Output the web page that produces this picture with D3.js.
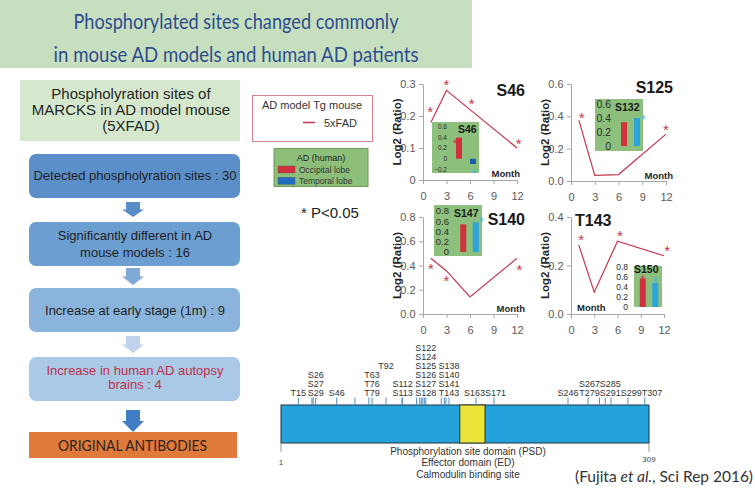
<!DOCTYPE html>
<html><head><meta charset="utf-8">
<script src="https://cdn.jsdelivr.net/npm/d3@7"></script>
<style>body{margin:0;background:#fff}svg{display:block}</style>
</head><body>
<script>
// ---------------- DATA ----------------
const titleLines = ["Phosphorylated sites changed commonly", "in mouse AD models and human AD patients"];
const headerLines = ["Phospholyration sites of", "MARCKS in AD model mouse", "(5XFAD)"];
const flowSteps = [
  ["Detected phospholyration sites : 30"],
  ["Significantly different in AD", "mouse models : 16"],
  ["Increase at early stage (1m) : 9"],
  ["Increase in human AD autopsy", "brains : 4"]
];
const finalStep = "ORIGINAL ANTIBODIES";

const months = [1, 3, 6, 12];
const monthTicks = [0, 3, 6, 9, 12];
const s46Ratio  = [0.18, 0.28, 0.22, 0.10];
const s125Ratio = [0.375, 0.035, 0.04, 0.29];
const s140Ratio = [0.46, 0.355, 0.14, 0.46];
const t143Ratio = [0.285, 0.09, 0.30, 0.24];
// significance asterisks [month, value]
const s46Stars  = [[0.9, 0.225], [3, 0.31], [6.2, 0.25], [12.2, 0.125]];
const s125Stars = [[1.35, 0.41], [12, 0.336]];
const s140Stars = [[1.0, 0.40], [3.0, 0.30], [12.3, 0.39]];
const t143Stars = [[1.3, 0.32], [6.3, 0.337], [12.4, 0.276]];
const s46Ticks  = [0, 0.1, 0.2, 0.3];
const s125Ticks = [0, 0.2, 0.4, 0.6];
const s140Ticks = [0, 0.2, 0.4, 0.6, 0.8];
const t143Ticks = [0, 0.2, 0.4];

// human AD (inset bars)
const humanSites = ["S46", "S132", "S147", "S150"];
const occipital  = [0.40, 0.34, 0.54, 0.57];
const temporal   = [-0.10, 0.40, 0.58, 0.485];
const insetTicks = [[-0.2, 0, 0.2, 0.4, 0.6], [0, 0.2, 0.4, 0.6], [0, 0.2, 0.4, 0.6, 0.8], [0, 0.2, 0.4, 0.6, 0.8]];
// inset asterisks: [site index, lobe, value]
const insetStars = [[0, "occ", 0.33], [0, "temp", -0.24], [1, "temp", 0.41], [2, "temp", 0.64], [3, "occ", 0.60], [3, "temp", 0.56]];

// MARCKS phosphorylation sites
const siteNames = ["T15","S26","S27","S29","S46","T63","T76","T79","T92","S112","S113","S122","S124","S125","S126","S127","S128","S138","S140","S141","T143","S163","S171","S246","S267","T279","S285","S291","S299","T307"];
const siteResidues = [15,26,27,29,46,63,76,79,92,112,113,122,124,125,126,127,128,138,140,141,143,163,171,246,267,279,285,291,299,307];
const siteLabelRows = [0,2,1,0,0,2,1,0,3,1,0,5,4,3,2,1,0,3,2,1,0,0,0,0,1,0,1,0,0,0];
const proteinLength = [1, 309];
const psdResidues = [151, 167];
const domainLines = ["Phosphorylation site domain (PSD)", "Effector domain (ED)", "Calmodulin binding site"];

// ---------------- DRAW ----------------
const AR = '"Liberation Sans", Arial, sans-serif';
const CAL = 'Lato, "Open Sans", sans-serif';
const RED = "#c4364f";
const svg = d3.select("body").append("svg").attr("width", 755).attr("height", 488)
  .style("font-family", AR);

// title band
svg.append("rect").attr("x", 0).attr("y", 0).attr("width", 472).attr("height", 68).attr("fill", "#c6e0bf");
const titleW = [325, 365], titleY = [28.5, 61.5];
svg.selectAll(".ttl").data(titleLines).join("text")
  .attr("x", 236).attr("y", (d, i) => titleY[i]).attr("text-anchor", "middle")
  .attr("font-family", CAL).attr("font-size", 22).attr("fill", "#2f4c8e")
  .attr("textLength", (d, i) => titleW[i]).attr("lengthAdjust", "spacingAndGlyphs").text(d => d);

// left flow
svg.append("rect").attr("x", 20).attr("y", 80).attr("width", 220).attr("height", 61).attr("fill", "#d5e8cd");
svg.selectAll(".hdr").data(headerLines).join("text")
  .attr("x", 131).attr("y", (d, i) => 99 + i * 16).attr("text-anchor", "middle")
  .attr("font-size", 15).attr("fill", "#262626").text(d => d);

const boxY = [154, 222, 288, 357], boxH = 44;
const boxFill = ["#5b8fc9", "#6c9ed1", "#8ab4dc", "#a9c9e6"];
const boxText = ["#1f1f1f", "#1f1f1f", "#1f1f1f", "#c0304a"];
const boxBase = [[180], [240, 257], [315], [375, 389]];
flowSteps.forEach((lines, i) => {
  svg.append("rect").attr("x", 29).attr("y", boxY[i]).attr("width", 211).attr("height", boxH)
    .attr("rx", 7).attr("fill", boxFill[i]);
  svg.selectAll(".fs" + i).data(lines).join("text")
    .attr("x", 135).attr("y", (d, j) => boxBase[i][j]).attr("text-anchor", "middle")
    .attr("font-size", 13).attr("fill", boxText[i]).text(d => d);
});
// arrows
const arrows = [[202, 217, "#5a8cc6"], [268, 285, "#7fa9d6"], [336, 353, "#bfd3eb"], [410, 432, "#3f7ec5"]];
arrows.forEach(([y0, y1, c]) => {
  const cx = 133, h = y1 - y0, ys = y0 + h * 0.5;
  svg.append("path").attr("fill", c)
    .attr("d", `M${cx-7},${y0}H${cx+7}V${ys}H${cx+11}L${cx},${y1}L${cx-11},${ys}H${cx-7}Z`);
});
svg.append("rect").attr("x", 29).attr("y", 432).attr("width", 208).attr("height", 26).attr("fill", "#e07a3a");
svg.append("text").attr("x", 132.5).attr("y", 450.5).attr("text-anchor", "middle")
  .attr("font-family", CAL).attr("font-size", 15).attr("fill", "#2b2320")
  .attr("textLength", 149).attr("lengthAdjust", "spacingAndGlyphs").text(finalStep);

// legends
svg.append("rect").attr("x", 252.5).attr("y", 95.5).attr("width", 120).attr("height", 46)
  .attr("fill", "#fff").attr("stroke", "#d9818e");
svg.append("text").attr("x", 262).attr("y", 108.5).attr("font-size", 11).attr("fill", "#333").text("AD model Tg mouse");
svg.append("line").attr("x1", 303).attr("x2", 315).attr("y1", 122.5).attr("y2", 122.5).attr("stroke", RED).attr("stroke-width", 1.5);
svg.append("text").attr("x", 324).attr("y", 126.5).attr("font-size", 11).attr("fill", "#333").text("5xFAD");

svg.append("rect").attr("x", 274).attr("y", 148.5).attr("width", 94).attr("height", 38)
  .attr("fill", "#8dbf7b").attr("stroke", "#6a9a5a");
svg.append("text").attr("x", 321).attr("y", 160.5).attr("text-anchor", "middle").attr("font-size", 9).attr("fill", "#222").text("AD (human)");
const legItems = [["Occipital lobe", "#d42f3c", 166], ["Temporal lobe", "#1f6cc0", 177.3]];
legItems.forEach(([t, c, y]) => {
  svg.append("rect").attr("x", 278).attr("y", y).attr("width", 17).attr("height", 7).attr("fill", c).attr("stroke", "#555").attr("stroke-width", 0.4);
  svg.append("text").attr("x", 299).attr("y", y + 6.5).attr("font-size", 8.5).attr("fill", "#333").text(t);
});
svg.append("text").attr("x", 301).attr("y", 218).attr("font-size", 15).attr("fill", "#222").text("* P<0.05");

// charts
const fmt1 = d3.format(".1f");
const charts = [
  { name: "S46", data: s46Ratio, stars: s46Stars, ticks: s46Ticks, fmt: d => d === 0 ? "0" : fmt1(d),
    xr: [423, 517], yr: [180, 84], dom: [0, 0.3], title: [525, 96, "end"], month: [520, 177, "end"], logX: 401 },
  { name: "S125", data: s125Ratio, stars: s125Stars, ticks: s125Ticks, fmt: fmt1,
    xr: [571, 666], yr: [181, 84], dom: [0, 0.6], title: [673, 93, "end"], month: [673, 179, "end"], logX: 549 },
  { name: "S140", data: s140Ratio, stars: s140Stars, ticks: s140Ticks, fmt: fmt1,
    xr: [423, 517], yr: [314, 217], dom: [0, 0.8], title: [525, 225, "end"], month: [525, 311.5, "end"], logX: 401 },
  { name: "T143", data: t143Ratio, stars: t143Stars, ticks: t143Ticks, fmt: fmt1,
    xr: [571, 664], yr: [314, 217], dom: [0, 0.4], title: [575, 226, "start"], month: [577, 311, "start"], logX: 549 }
];
charts.forEach(c => {
  const x = d3.scaleLinear().domain([0, 12]).range(c.xr);
  const y = d3.scaleLinear().domain(c.dom).range(c.yr);
  const g = svg.append("g");
  const ya = g.append("g").attr("transform", `translate(${c.xr[0]},0)`)
    .call(d3.axisLeft(y).tickValues(c.ticks).tickFormat(c.fmt).tickSize(4).tickPadding(3.5).tickSizeOuter(0));
  const xa = g.append("g").attr("transform", `translate(0,${c.yr[0]})`)
    .call(d3.axisBottom(x).tickValues(monthTicks).tickSize(4).tickPadding(8).tickSizeOuter(0));
  [ya, xa].forEach(a => {
    a.selectAll("path,line").attr("stroke", "#a6a6a6");
    a.selectAll("text").attr("font-family", AR).attr("font-size", 11).attr("fill", "#595959");
  });
  g.append("text").attr("transform", `translate(${c.logX},${(c.yr[0] + c.yr[1]) / 2}) rotate(-90)`)
    .attr("text-anchor", "middle").attr("font-size", 11.5).attr("font-weight", "bold").attr("fill", "#262626").text("Log2 (Ratio)");
  g.append("path").datum(months.map((m, i) => [m, c.data[i]]))
    .attr("fill", "none").attr("stroke", RED).attr("stroke-width", 1.2)
    .attr("d", d3.line().x(d => x(d[0])).y(d => y(d[1])));
  g.selectAll(".st").data(c.stars).join("text")
    .attr("x", d => x(d[0])).attr("y", d => y(d[1])).attr("dy", "0.58em").attr("text-anchor", "middle")
    .attr("font-size", 15).attr("fill", RED).text("*");
  g.append("text").attr("x", c.title[0]).attr("y", c.title[1]).attr("text-anchor", c.title[2])
    .attr("font-size", 16).attr("font-weight", "bold").attr("fill", "#1a1a1a").text(c.name);
  g.append("text").attr("x", c.month[0]).attr("y", c.month[1]).attr("text-anchor", c.month[2])
    .attr("font-size", 9.5).attr("font-weight", "bold").attr("fill", "#262626").text("Month");
});

// insets (human AD)
const insets = [
  { rect: [432, 122, 47, 51], yr: [169.3, 127], dom: [-0.2, 0.6], labelX: 447, fs: 6.5, title: [458, 133.3], pr: [452, 480], tempColor: "#1f5fa8", starDx: { occ: -4, temp: 1 } },
  { rect: [595, 99, 48, 52], yr: [146, 104], dom: [0, 0.6], labelX: 611, fs: 10.5, title: [615, 110.7], pr: [617.5, 643.5], tempColor: "#2ca5dd", starDx: { occ: 0, temp: 6 } },
  { rect: [434, 205, 48, 51], yr: [252, 211], dom: [0, 0.8], labelX: 449, fs: 9.5, title: [454, 216.7], pr: [457, 482], tempColor: "#2ca5dd", starDx: { occ: 0, temp: 5.5 } },
  { rect: [634, 266, 28, 41], yr: [307, 267], dom: [0, 0.8], labelX: 628, fs: 8.5, title: [634, 272.7], pr: [636.5, 661.5], tempColor: "#2ca5dd", starDx: { occ: 0, temp: 0 } }
];
insets.forEach((L, i) => {
  const g = svg.append("g");
  g.append("rect").attr("x", L.rect[0]).attr("y", L.rect[1]).attr("width", L.rect[2]).attr("height", L.rect[3]).attr("fill", "#8cc07c");
  const y = d3.scaleLinear().domain(L.dom).range(L.yr);
  const p = d3.scalePoint().domain(["occ", "temp"]).range(L.pr).padding(0.5);
  g.selectAll(".tl").data(insetTicks[i]).join("text")
    .attr("x", L.labelX).attr("y", d => y(d)).attr("dy", "0.35em").attr("text-anchor", "end")
    .attr("font-size", L.fs).attr("fill", "#2b2b2b").text(d => d === 0 ? "0" : fmt1(d));
  g.append("text").attr("x", L.title[0]).attr("y", L.title[1]).attr("font-size", 10.5).attr("font-weight", "bold").attr("fill", "#1a1a1a").text(humanSites[i]);
  const vals = [["occ", occipital[i], "#d0313d"], ["temp", temporal[i], L.tempColor]];
  g.selectAll(".bar").data(vals).join("rect")
    .attr("x", d => p(d[0]) - 3).attr("width", 6)
    .attr("y", d => Math.min(y(d[1]), y(0))).attr("height", d => Math.abs(y(d[1]) - y(0)))
    .attr("fill", d => d[2]);
  g.selectAll(".ist").data(insetStars.filter(s => s[0] === i)).join("text")
    .attr("x", d => p(d[1]) + L.starDx[d[1]]).attr("y", d => y(d[2])).attr("dy", "0.58em").attr("text-anchor", "middle")
    .attr("font-size", 12).attr("fill", d => d[1] === "occ" ? "#d0313d" : "#3ab4e6").text("*");
});

// protein diagram
const ps = d3.scaleLinear().domain([1, 46, 92, 113, 143, 163, 171, 246, 291, 309])
  .range([281, 336.7, 386, 402.7, 449, 476, 494, 568, 611, 649]);
const barTop = 405, barBot = 443;
svg.append("rect").attr("x", ps(proteinLength[0])).attr("y", barTop).attr("width", ps(proteinLength[1]) - ps(proteinLength[0])).attr("height", barBot - barTop)
  .attr("fill", "#24a2db").attr("stroke", "#23323f").attr("stroke-width", 1);
svg.append("rect").attr("x", ps(psdResidues[0])).attr("y", barTop).attr("width", ps(psdResidues[1]) - ps(psdResidues[0])).attr("height", barBot - barTop)
  .attr("fill", "#ebe53a").attr("stroke", "#333").attr("stroke-width", 1);
proteinLength.forEach((r, i) => {
  svg.append("line").attr("x1", ps(r)).attr("x2", ps(r)).attr("y1", barBot).attr("y2", 452).attr("stroke", "#999");
  svg.append("text").attr("x", ps(r)).attr("y", i ? 462 : 465).attr("text-anchor", "middle").attr("font-size", 8).attr("fill", "#444").text(r);
});
svg.selectAll(".stick").data(siteResidues).join("line")
  .attr("x1", d => ps(d)).attr("x2", d => ps(d)).attr("y1", 397.5).attr("y2", barTop)
  .attr("stroke", "#4f8fc0").attr("stroke-width", 1);

// site labels with simple collision relaxation
const labs = siteNames.map((n, i) => ({ name: n, res: siteResidues[i], row: siteLabelRows[i], x: ps(siteResidues[i]) }));
const labSel = svg.selectAll(".slab").data(labs).join("text")
  .attr("text-anchor", "middle").attr("font-size", 9).attr("fill", "#333")
  .attr("y", d => 395.5 - d.row * 8.9).text(d => d.name);
labSel.each(function (d) { d.w = this.getComputedTextLength(); });
labs.forEach((d, i) => {
  if (d.row > 0) {
    for (let j = i + 1; j < labs.length; j++) {
      if (labs[j].row === 0) { if (labs[j].res - d.res <= 18) d.anchor = labs[j]; break; }
    }
  }
});
const row0 = labs.filter(d => d.row === 0).sort((a, b) => a.x - b.x);
for (let it = 0; it < 60; it++) {
  for (let k = 0; k < row0.length - 1; k++) {
    const a = row0[k], b = row0[k + 1];
    const ov = (a.x + a.w / 2) - (b.x - b.w / 2);
    if (ov > 0) { a.x -= ov / 2; b.x += ov / 2; }
  }
}
labs.forEach(d => { if (d.anchor) d.x = d.anchor.x; });
labSel.attr("x", d => d.x);

svg.selectAll(".dom").data(domainLines).join("text")
  .attr("x", 468).attr("y", (d, i) => 455 + i * 11.4).attr("text-anchor", "middle")
  .attr("font-size", 10).attr("fill", "#333").text(d => d);

const cit = svg.append("text").attr("x", 575).attr("y", 481.5).attr("font-family", CAL).attr("font-size", 16).attr("fill", "#333")
  .attr("textLength", 178).attr("lengthAdjust", "spacingAndGlyphs");
cit.append("tspan").text("(Fujita ");
cit.append("tspan").attr("font-style", "italic").text("et al.");
cit.append("tspan").text(", Sci Rep  2016)");
</script>
</body></html>
